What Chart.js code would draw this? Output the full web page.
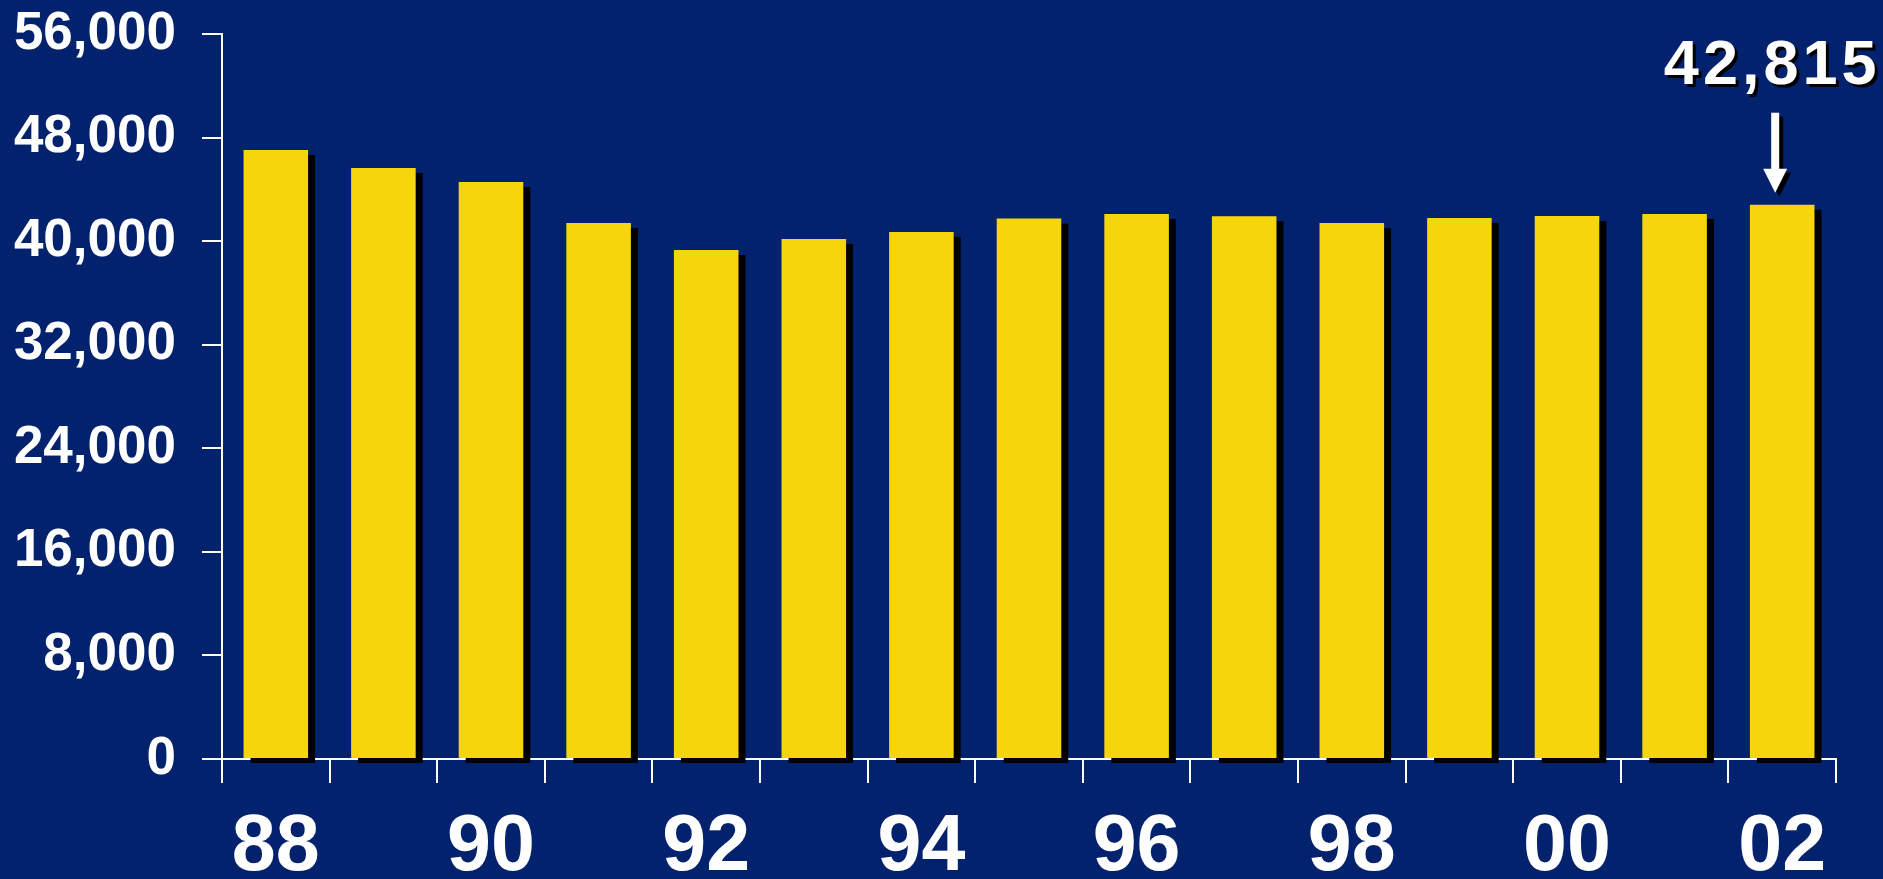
<!DOCTYPE html>
<html>
<head>
<meta charset="utf-8">
<script src="https://cdn.jsdelivr.net/npm/chart.js@4.4.1/dist/chart.umd.min.js"></script>
<style>
  html, body { margin: 0; padding: 0; background: #02226e; }
  #wrap { width: 1883px; height: 879px; }
</style>
</head>
<body>
<div id="wrap"><canvas id="grafico"></canvas></div>
<script>
const anos = ['88', '89', '90', '91', '92', '93', '94', '95', '96', '97', '98', '99', '00', '01', '02'];
const valores = [47040, 45650, 44570, 41400, 39320, 40170, 40710, 41740, 42100, 41930, 41400, 41790, 41940, 42100, 42815];
const eixoY = { min: 0, max: 56000, passo: 8000 };
const destaque = '42,815';

const amarelo = '#f6d60a';
const branco = '#ffffff';

// sombra preta atras de cada barra
const sombraBarras = {
  id: 'sombraBarras',
  beforeDatasetsDraw(chart) {
    const ctx = chart.ctx;
    const meta = chart.getDatasetMeta(0);
    ctx.save();
    ctx.fillStyle = '#000000';
    meta.data.forEach(bar => {
      const w = bar.width;
      ctx.fillRect(bar.x - w / 2 + 7, bar.y + 5, w, bar.base - bar.y);
    });
    ctx.restore();
  }
};

// numero e seta em cima da ultima barra
const seta = {
  id: 'seta',
  afterDraw(chart) {
    const ctx = chart.ctx;
    const meta = chart.getDatasetMeta(0);
    const bar = meta.data[meta.data.length - 1];
    const ax = bar.x - 7;
    const ponta = bar.y - 12;

    function desenhaSeta(dx, dy, cor) {
      ctx.fillStyle = cor;
      ctx.fillRect(ax - 4 + dx, ponta - 80 + dy, 8, 58);
      ctx.beginPath();
      ctx.moveTo(ax - 12 + dx, ponta - 24 + dy);
      ctx.lineTo(ax + 12 + dx, ponta - 24 + dy);
      ctx.lineTo(ax + dx, ponta + dy);
      ctx.closePath();
      ctx.fill();
    }

    ctx.save();
    desenhaSeta(4, 4, '#000000');
    desenhaSeta(0, 0, branco);

    ctx.font = 'bold 63px "Liberation Sans", Arial, sans-serif';
    ctx.letterSpacing = '4px';
    ctx.textAlign = 'center';
    ctx.textBaseline = 'alphabetic';
    const tx = bar.x - 10;
    const ty = bar.y - 121;
    ctx.fillStyle = '#000000';
    ctx.fillText(destaque, tx + 3, ty + 3);
    ctx.fillStyle = branco;
    ctx.fillText(destaque, tx, ty);
    ctx.restore();
  }
};

new Chart(document.getElementById('grafico'), {
  type: 'bar',
  data: {
    labels: anos,
    datasets: [{
      data: valores,
      backgroundColor: amarelo,
      borderWidth: 0,
      categoryPercentage: 1,
      barPercentage: 0.6
    }]
  },
  options: {
    responsive: true,
    maintainAspectRatio: false,
    animation: false,
    layout: {
      padding: { top: 34, right: 47, left: 0, bottom: 0 }
    },
    plugins: {
      legend: { display: false },
      tooltip: { enabled: false }
    },
    scales: {
      x: {
        z: 1,
        offset: true,
        grid: {
          offset: true,
          drawOnChartArea: false,
          drawTicks: true,
          tickLength: 24,
          color: branco,
          lineWidth: 2
        },
        border: { display: true, color: branco, width: 2 },
        ticks: {
          color: branco,
          padding: 18,
          autoSkip: false,
          maxRotation: 0,
          font: { family: '"Liberation Sans", Arial, sans-serif', size: 79, weight: 'bold' },
          callback: function (v, i) { return i % 2 === 0 ? anos[i] : ''; }
        },
        afterFit(scale) { scale.height = 120; }
      },
      y: {
        z: 1,
        min: eixoY.min,
        max: eixoY.max,
        grid: {
          drawOnChartArea: false,
          drawTicks: true,
          tickLength: 20,
          color: branco,
          lineWidth: 2
        },
        border: { display: true, color: branco, width: 2 },
        ticks: {
          stepSize: eixoY.passo,
          color: branco,
          padding: 26,
          font: { family: '"Liberation Sans", Arial, sans-serif', size: 53, weight: 'bold' },
          callback: v => v.toLocaleString('en-US')
        },
        afterFit(scale) {
          scale.width = 222;
          scale.paddingTop = 0;
          scale.paddingBottom = 0;
        }
      }
    }
  },
  plugins: [sombraBarras, seta]
});
</script>
</body>
</html>
